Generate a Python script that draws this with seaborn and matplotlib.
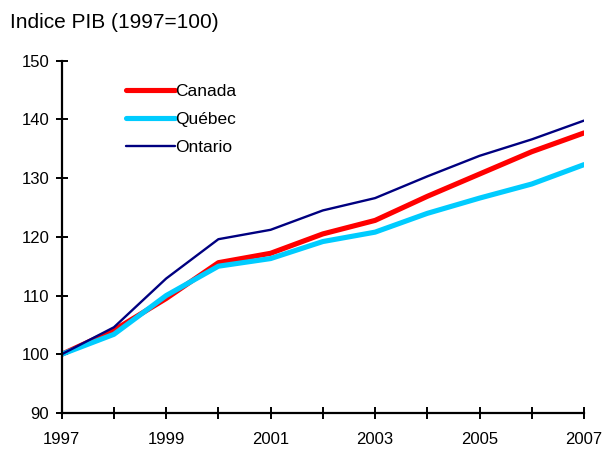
import matplotlib
matplotlib.use("Agg")
import matplotlib.pyplot as plt
import pandas as pd
import seaborn as sns

years = [1997, 1998, 1999, 2000, 2001, 2002, 2003, 2004, 2005, 2006, 2007]
canada = [100, 104.1, 109.5, 115.6, 117.2, 120.5, 122.8, 126.9, 130.7, 134.5, 137.7]
quebec = [100, 103.4, 110.0, 115.0, 116.3, 119.2, 120.8, 124.0, 126.6, 129.0, 132.3]
ontario = [100, 104.6, 112.9, 119.6, 121.2, 124.5, 126.6, 130.3, 133.8, 136.6, 139.8]
regions = ["Canada", "Québec", "Ontario"]
colors = {"Canada": "#ff0000", "Québec": "#00ccff", "Ontario": "#000080"}
widths = {"Canada": 3.7, "Québec": 3.7, "Ontario": 1.7}

df = pd.DataFrame({
    "year": years * 3,
    "value": canada + quebec + ontario,
    "region": [r for r in regions for _ in years],
})

sns.set_style("white")
plt.rcParams["font.family"] = ["Liberation Sans", "DejaVu Sans"]
plt.rcParams["text.color"] = "black"

fig = plt.figure(figsize=(6.03, 4.49), dpi=100)
ax = fig.add_axes([0.1023, 0.0802, 0.8662, 0.7846])

sns.lineplot(
    data=df, x="year", y="value", hue="region", size="region",
    hue_order=regions, size_order=regions,
    palette=colors, sizes=widths, ax=ax,
)

ax.set_xlim(1997, 2007)
ax.set_ylim(90, 150)
ax.set_xticks(years)
ax.set_xticklabels([str(y) if (y - 1997) % 2 == 0 else "" for y in years])
ax.set_yticks(range(90, 151, 10))
ax.set_xlabel("")
ax.set_ylabel("")

for side in ("top", "right"):
    ax.spines[side].set_visible(False)
for side in ("left", "bottom"):
    ax.spines[side].set_color("black")
    ax.spines[side].set_linewidth(1.6)
ax.tick_params(axis="both", bottom=True, left=True, direction="inout",
               length=9, width=1.4, colors="black", labelsize=12)
ax.tick_params(axis="y", pad=4.5)
ax.tick_params(axis="x", pad=9)

leg = ax.legend(loc="upper left", bbox_to_anchor=(0.123, 0.935), frameon=False,
                fontsize=12.5, handlelength=2.8, handletextpad=0.05,
                labelspacing=0.75, borderaxespad=0, borderpad=0)
for line in leg.get_lines():
    line.set_linewidth(widths[line.get_label()])
for t in leg.get_texts():
    t.set_color("black")

fig.text(0.0166, 0.949, "Indice PIB (1997=100)", fontsize=15, color="black",
         ha="left", va="center")

fig.savefig("out.png", dpi=100)
